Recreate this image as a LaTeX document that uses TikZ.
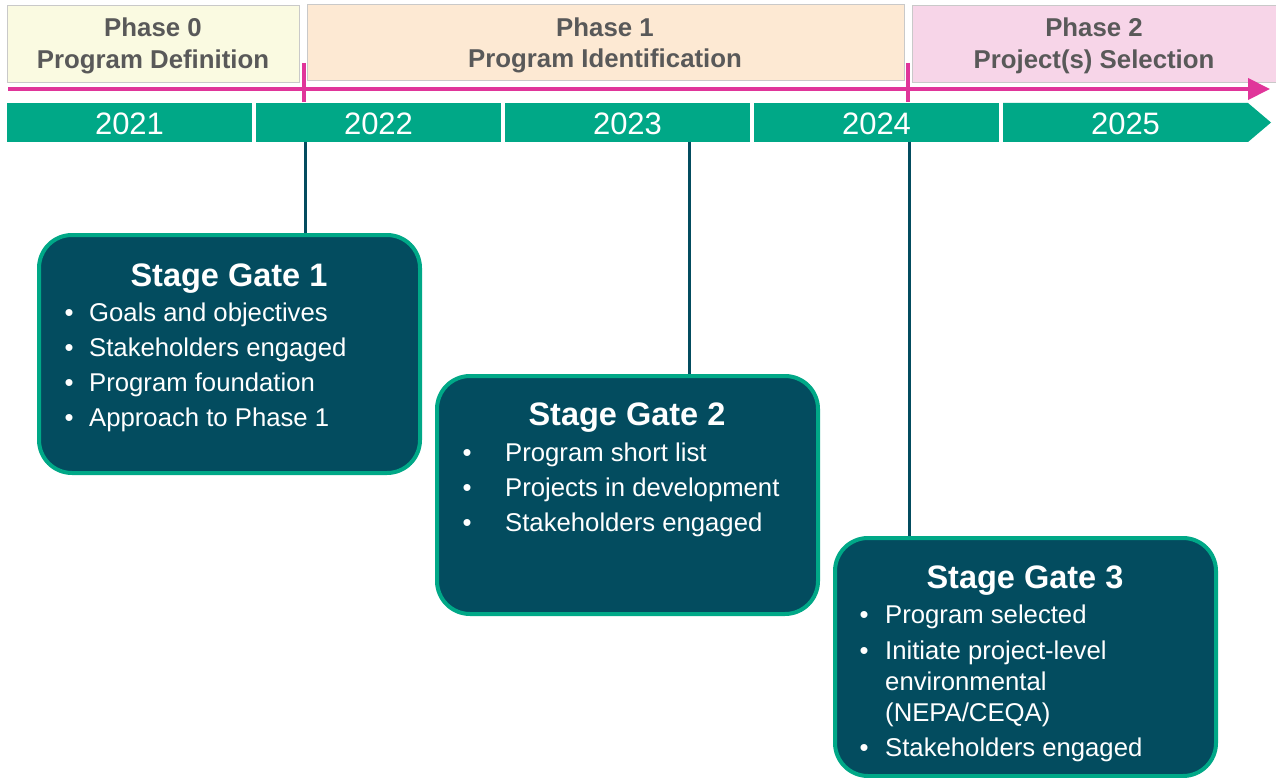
\documentclass[tikz,border=0pt]{standalone}
\usepackage{fontspec}
\setmainfont{Liberation Sans}
\usetikzlibrary{arrows.meta}
\definecolor{tgreen}{HTML}{00A887}
\definecolor{tdark}{HTML}{034C5F}
\definecolor{tpink}{HTML}{E0359A}
\definecolor{tgray}{HTML}{595959}
\definecolor{pzero}{HTML}{FAFAE1}
\definecolor{pone}{HTML}{FDE9D3}
\definecolor{ptwo}{HTML}{F7D5E8}
\definecolor{pborder}{HTML}{C9C9C9}
\tikzset{
  phasebox/.style={draw=pborder, line width=0.8pt, inner sep=0pt},
  phasetext/.style={text=tgray, font=\fontsize{25.8}{31}\selectfont\bfseries, align=center, inner sep=0pt},
  yearseg/.style={fill=tgreen, inner sep=0pt, minimum height=39pt},
  yeartext/.style={text=white, font=\fontsize{31}{31}\selectfont, anchor=base, inner sep=0pt},
  pinkline/.style={draw=tpink, line width=4pt},
  gateline/.style={draw=tdark, line width=3pt},
  gatebox/.style={draw=tgreen, fill=tdark, line width=4pt, rounded corners=33pt, minimum width=381pt, minimum height=238pt, inner sep=0pt},
  gatetitle/.style={text=white, font=\fontsize{32.5}{32.5}\selectfont\bfseries, anchor=base, inner sep=0pt},
  gateitem/.style={text=white, font=\fontsize{25.7}{31}\selectfont, anchor=base west, inner sep=0pt},
  gatebullet/.style={text=white, font=\fontsize{25.7}{31}\selectfont, anchor=base, inner sep=0pt},
}
\begin{document}
\begin{tikzpicture}[x=1pt,y=-1pt]
\useasboundingbox (0,0) rectangle (1276,778);
% phase boxes
\path[phasebox, fill=pzero] (7.5,5) rectangle (299,82);
\path[phasebox, fill=pone] (307,4) rectangle (904,80);
\path[phasebox, fill=ptwo] (912,5) rectangle (1280,82);
\node[phasetext, anchor=base] (ph0a) at (153,37) {Phase 0};
\node[phasetext, anchor=base] (ph0b) at (153,69) {Program Definition};
\node[phasetext, anchor=base] (ph1a) at (605,36.5) {Phase 1};
\node[phasetext, anchor=base] (ph1b) at (605,67.5) {Program Identification};
\node[phasetext, anchor=base] (ph2a) at (1094,37) {Phase 2};
\node[phasetext, anchor=base] (ph2b) at (1094,69) {Project(s) Selection};
% pink timeline
\coordinate (ps) at (8,89);
\coordinate (pe) at (1270,89);
\draw[pinkline, -{Triangle[length=22pt,width=21pt]}] (ps) -- (pe);
\coordinate (tk1a) at (304,63);
\coordinate (tk1b) at (304,102);
\coordinate (tk2a) at (908,63);
\coordinate (tk2b) at (908,102);
\draw[pinkline] (tk1a) -- (tk1b);
\draw[pinkline] (tk2a) -- (tk2b);
% year bar
\node[yearseg, minimum width=245pt] (s2021) at (129.5,122.5) {};
\node[yearseg, minimum width=245pt] (s2022) at (378.5,122.5) {};
\node[yearseg, minimum width=245pt] (s2023) at (627.5,122.5) {};
\node[yearseg, minimum width=245pt] (s2024) at (876.5,122.5) {};
\fill[tgreen] (1003,103) -- (1248,103) -- (1271,122.5) -- (1248,142) -- (1003,142) -- cycle;
\node[yeartext] (y2021) at (129.5,135) {2021};
\node[yeartext] (y2022) at (378.5,135) {2022};
\node[yeartext] (y2023) at (627.5,135) {2023};
\node[yeartext] (y2024) at (876.5,135) {2024};
\node[yeartext] (y2025) at (1125.5,135) {2025};
% gate boxes
\node[gatebox] (g1) at (229.5,354) {};
\node[gatebox] (g2) at (627.5,495) {};
\node[gatebox] (g3) at (1025.5,657) {};
% connectors
\coordinate (c1) at (305,142);
\coordinate (c2) at (689,142);
\coordinate (c3) at (909,142);
\draw[gateline] (c1) -- (c1 |- g1.north);
\draw[gateline] (c2) -- (c2 |- g2.north);
\draw[gateline] (c3) -- (c3 |- g3.north);
% gate 1 text
\node[gatetitle] (t1) at (229,286) {Stage Gate 1};
\node[gatebullet] (b11) at (69,321) {•};
\node[gateitem] (i11) at (89,321) {Goals and objectives};
\node[gatebullet] (b12) at (69,356) {•};
\node[gateitem] (i12) at (89,356) {Stakeholders engaged};
\node[gatebullet] (b13) at (69,391) {•};
\node[gateitem] (i13) at (89,391) {Program foundation};
\node[gatebullet] (b14) at (69,426) {•};
\node[gateitem] (i14) at (89,426) {Approach to Phase 1};
% gate 2 text
\node[gatetitle] (t2) at (627,425) {Stage Gate 2};
\node[gatebullet] (b21) at (467,461) {•};
\node[gateitem] (i21) at (505,461) {Program short list};
\node[gatebullet] (b22) at (467,496) {•};
\node[gateitem] (i22) at (505,496) {Projects in development};
\node[gatebullet] (b23) at (467,531) {•};
\node[gateitem] (i23) at (505,531) {Stakeholders engaged};
% gate 3 text
\node[gatetitle] (t3) at (1025,588) {Stage Gate 3};
\node[gatebullet] (b31) at (864,623) {•};
\node[gateitem] (i31) at (885,623) {Program selected};
\node[gatebullet] (b32) at (864,659) {•};
\node[gateitem] (i32) at (885,659) {Initiate project-level};
\node[gateitem] (i33) at (885,690) {environmental};
\node[gateitem] (i34) at (885,721) {(NEPA/CEQA)};
\node[gatebullet] (b35) at (864,756) {•};
\node[gateitem] (i35) at (885,756) {Stakeholders engaged};
\end{tikzpicture}
\end{document}
